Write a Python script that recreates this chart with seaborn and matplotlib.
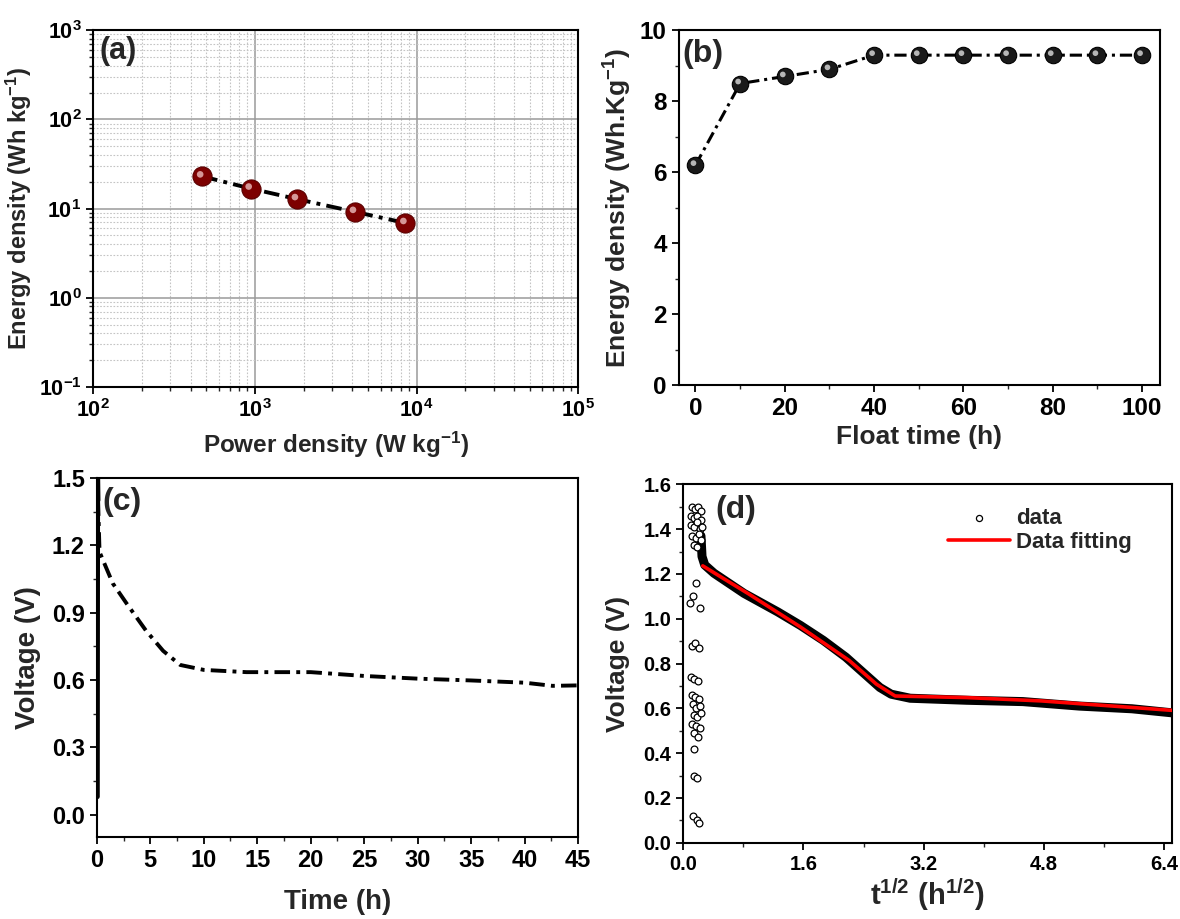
import numpy as np
import pandas as pd
import matplotlib
matplotlib.use("Agg")
import matplotlib.pyplot as plt
import matplotlib.transforms as mtransforms
from matplotlib.ticker import MultipleLocator, FormatStrFormatter
import seaborn as sns

# ---------------- data ----------------
# (a) Ragone plot
power_a = [472, 942, 1820, 4160, 8530]
energy_a = [23.0, 16.8, 12.8, 9.2, 6.9]

# (b) energy density vs float time
float_time_b = [0, 10, 20, 30, 40, 50, 60, 70, 80, 90, 100]
energy_b = [6.2, 8.5, 8.7, 8.9, 9.3, 9.3, 9.3, 9.3, 9.3, 9.3, 9.3]

# (c) voltage vs time: charge spike and discharge
time_charge_c = [0.06, 0.09, 0.12]
volt_charge_c = [0.08, 1.50, 1.40]
time_c = [0.12, 0.26, 1.5, 2.8, 4.6, 6.2, 7.8, 9.2, 10.0, 14.0, 20.0,
          25.0, 30.0, 35.0, 40.0, 42.6, 45.0]
volt_c = [1.40, 1.17, 1.03, 0.94, 0.82, 0.73, 0.667, 0.653, 0.645, 0.635,
          0.635, 0.618, 0.606, 0.598, 0.588, 0.574, 0.576]

# (d) voltage vs sqrt(t): dense data curve
sqrt_t_d = [0.236, 0.25, 0.286, 0.41, 0.81, 1.26, 1.56, 1.865, 2.165, 2.416, 2.617,
            2.767, 3.02, 3.77, 4.52, 5.27, 5.97, 6.5]
volt_d = [1.37, 1.278, 1.24, 1.203, 1.113, 1.03, 0.97, 0.903, 0.828, 0.753, 0.693,
          0.663, 0.645, 0.636, 0.63, 0.61, 0.598, 0.58]
# (d) scattered early data points
scat_x = [0.12, 0.16, 0.20, 0.24,
          0.10, 0.14, 0.19, 0.23,
          0.11, 0.15, 0.18, 0.22, 0.25,
          0.12, 0.17, 0.21, 0.24,
          0.14, 0.18,
          0.09, 0.13, 0.17, 0.22,
          0.12, 0.16, 0.21,
          0.11, 0.15, 0.20,
          0.12, 0.16, 0.21,
          0.13, 0.17, 0.22,
          0.14, 0.18, 0.23,
          0.12, 0.17, 0.22,
          0.14, 0.20,
          0.15,
          0.14, 0.19,
          0.13, 0.18, 0.21]
scat_v = [1.50, 1.49, 1.50, 1.48,
          1.46, 1.45, 1.46, 1.44,
          1.42, 1.41, 1.43, 1.40, 1.41,
          1.37, 1.36, 1.38, 1.35,
          1.33, 1.32,
          1.07, 1.10, 1.16, 1.05,
          0.88, 0.89, 0.87,
          0.74, 0.73, 0.72,
          0.66, 0.65, 0.64,
          0.62, 0.60, 0.61,
          0.57, 0.56, 0.58,
          0.53, 0.52, 0.51,
          0.49, 0.47,
          0.42,
          0.30, 0.29,
          0.12, 0.10, 0.09]
# (d) fitting line
fit_x = [0.26, 0.86, 1.56, 2.21, 2.57, 2.82, 3.77, 4.77, 6.5]
fit_v = [1.236, 1.113, 0.963, 0.813, 0.708, 0.655, 0.648, 0.633, 0.591]

# ---------------- style ----------------
sns.set_style("ticks")
plt.rcParams["font.family"] = ["Liberation Sans", "DejaVu Sans"]
plt.rcParams["font.weight"] = "bold"
plt.rcParams["axes.labelweight"] = "bold"
plt.rcParams["mathtext.fontset"] = "custom"
plt.rcParams["mathtext.rm"] = "Liberation Sans:bold"
plt.rcParams["mathtext.bf"] = "Liberation Sans:bold"
plt.rcParams["mathtext.it"] = "Liberation Sans:bold:italic"
plt.rcParams["mathtext.sf"] = "Liberation Sans:bold"
plt.rcParams["mathtext.default"] = "bf"
plt.rcParams["axes.edgecolor"] = "black"
plt.rcParams["axes.linewidth"] = 1.5

DASHDOT = (0, (4, 1.6, 1, 1.6))

fig = plt.figure(figsize=(11.8, 9.19), dpi=100)


def style_ticks(ax, size):
    ax.tick_params(which="major", direction="out", length=5, width=1.3,
                   labelsize=size, top=False, right=False, colors="black")
    ax.tick_params(which="minor", direction="out", length=3, width=1.0,
                   top=False, right=False)
    for s in ax.spines.values():
        s.set_visible(True)
        s.set_linewidth(1.5)
        s.set_color("black")


def sphere(ax, x, y, s, face, edge, hi):
    sns.scatterplot(x=x, y=y, ax=ax, s=s, color=face, edgecolor=edge,
                    linewidth=0.8, zorder=3, legend=False)
    off = mtransforms.offset_copy(ax.transData, fig=fig, x=-2, y=2, units="dots")
    ax.scatter(x, y, s=s * 0.12, color=hi, edgecolors="none", zorder=4,
               transform=off, alpha=0.9)


# ---------------- (a) ----------------
ax = fig.add_axes([0.079, 0.579, 0.411, 0.388])
ax.set_xscale("log")
ax.set_yscale("log")
ax.set_xlim(1e2, 1e5)
ax.set_ylim(1e-1, 1e3)
ax.grid(which="major", color="#9a9a9a", lw=1.1, ls="-")
ax.grid(which="minor", color="#c4c4c4", lw=0.8, ls=(0, (1.5, 1.5)))
ax.set_axisbelow(True)
df_a = pd.DataFrame({"P": power_a, "E": energy_a})
sns.lineplot(data=df_a, x="P", y="E", ax=ax, color="black", lw=2.8,
             linestyle=DASHDOT, sort=False, estimator=None, zorder=2)
sphere(ax, power_a, energy_a, 190, "#7d0000", "#5a0000", "#e0a8a8")
ax.set_xlabel("Power density (W kg$^{-1}$)", fontsize=17.5, labelpad=6)
ax.set_ylabel("Energy density (Wh kg$^{-1}$)", fontsize=17, labelpad=3)
style_ticks(ax, 15.5)
ax.text(0.012, 0.985, "(a)", transform=ax.transAxes, fontsize=22,
        fontweight="bold", va="top", ha="left")

# ---------------- (b) ----------------
ax = fig.add_axes([0.575, 0.581, 0.408, 0.386])
df_b = pd.DataFrame({"t": float_time_b, "E": energy_b})
sns.lineplot(data=df_b, x="t", y="E", ax=ax, color="black", lw=2.2,
             linestyle=DASHDOT, sort=False, estimator=None, zorder=2)
sphere(ax, float_time_b, energy_b, 140, "#1a1a1a", "#000000", "#c8c8c8")
ax.set_xlim(-3.8, 104)
ax.set_ylim(0, 10)
ax.xaxis.set_major_locator(MultipleLocator(20))
ax.xaxis.set_minor_locator(MultipleLocator(10))
ax.yaxis.set_major_locator(MultipleLocator(2))
ax.yaxis.set_minor_locator(MultipleLocator(1))
ax.set_xlabel("Float time (h)", fontsize=19, labelpad=4)
ax.set_ylabel("Energy density (Wh.Kg$^{-1}$)", fontsize=19, labelpad=4)
style_ticks(ax, 17.5)
ax.text(0.008, 0.975, "(b)", transform=ax.transAxes, fontsize=23,
        fontweight="bold", va="top", ha="left")

# ---------------- (c) ----------------
ax = fig.add_axes([0.082, 0.089, 0.408, 0.391])
df_cc = pd.DataFrame({"t": time_charge_c, "V": volt_charge_c})
sns.lineplot(data=df_cc, x="t", y="V", ax=ax, color="black", lw=3.4,
             linestyle="-", sort=False, estimator=None)
df_c = pd.DataFrame({"t": time_c, "V": volt_c})
sns.lineplot(data=df_c, x="t", y="V", ax=ax, color="black", lw=2.8,
             linestyle=DASHDOT, sort=False, estimator=None)
ax.set_xlim(0, 45)
ax.set_ylim(-0.1, 1.5)
ax.xaxis.set_major_locator(MultipleLocator(5))
ax.xaxis.set_minor_locator(MultipleLocator(2.5))
ax.yaxis.set_major_locator(MultipleLocator(0.3))
ax.yaxis.set_minor_locator(MultipleLocator(0.15))
ax.yaxis.set_major_formatter(FormatStrFormatter("%.1f"))
ax.set_xlabel("Time (h)", fontsize=20, labelpad=12)
ax.set_ylabel("Voltage (V)", fontsize=20, labelpad=8)
style_ticks(ax, 17)
ax.text(0.012, 0.975, "(c)", transform=ax.transAxes, fontsize=23,
        fontweight="bold", va="top", ha="left")

# ---------------- (d) ----------------
ax = fig.add_axes([0.579, 0.083, 0.414, 0.39])
df_d = pd.DataFrame({"x": sqrt_t_d, "V": volt_d})
sns.lineplot(data=df_d, x="x", y="V", ax=ax, color="black", lw=6.5,
             sort=False, estimator=None, legend=False, label="_nolegend_",
             zorder=2)
df_s = pd.DataFrame({"x": scat_x, "V": scat_v})
sns.scatterplot(data=df_s, x="x", y="V", ax=ax, s=24, facecolor="white",
                edgecolor="black", linewidth=0.9, marker="o", label="data",
                zorder=3)
df_f = pd.DataFrame({"x": fit_x, "V": fit_v})
sns.lineplot(data=df_f, x="x", y="V", ax=ax, color="#ff0000", lw=2.6,
             sort=False, estimator=None, label="Data fitting", zorder=4)
ax.set_xlim(0, 6.5)
ax.set_ylim(0, 1.6)
ax.xaxis.set_major_locator(MultipleLocator(1.6))
ax.xaxis.set_minor_locator(MultipleLocator(0.8))
ax.yaxis.set_major_locator(MultipleLocator(0.2))
ax.yaxis.set_minor_locator(MultipleLocator(0.1))
ax.xaxis.set_major_formatter(FormatStrFormatter("%.1f"))
ax.yaxis.set_major_formatter(FormatStrFormatter("%.1f"))
ax.set_xlabel(r"$\mathbf{t^{1/2}\ (h^{1/2})}$", fontsize=21, labelpad=2)
ax.set_ylabel("Voltage (V)", fontsize=19, labelpad=10)
style_ticks(ax, 14.5)
handles, labels = ax.get_legend_handles_labels()
leg = ax.legend(handles, labels, loc="upper right", bbox_to_anchor=(0.96, 0.99),
                frameon=False, fontsize=16, handlelength=2.8, handletextpad=0.3,
                labelspacing=0.15, markerscale=0.9)
ax.text(0.065, 0.97, "(d)", transform=ax.transAxes, fontsize=23,
        fontweight="bold", va="top", ha="left")

fig.savefig("out.png", dpi=100)
